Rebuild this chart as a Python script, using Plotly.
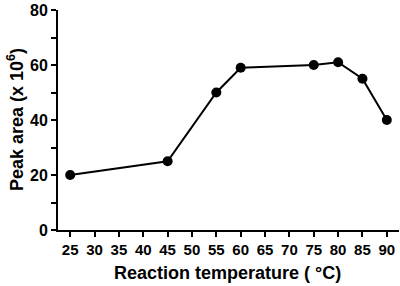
import plotly.graph_objects as go

temperature = [25, 45, 55, 60, 75, 80, 85, 90]
peak_area = [20, 25, 50, 59, 60, 61, 55, 40]
x_ticks = [25, 30, 35, 40, 45, 50, 55, 60, 65, 70, 75, 80, 85, 90]
y_ticks = [0, 20, 40, 60, 80]

font_family = "Liberation Sans, Arial, sans-serif"

fig = go.Figure()
fig.add_trace(go.Scatter(
    x=temperature, y=peak_area, mode="lines+markers",
    line=dict(color="black", width=2),
    marker=dict(color="black", size=10),
    cliponaxis=False,
))

fig.update_layout(
    width=400, height=286,
    margin=dict(l=58, r=1, t=10, b=56, autoexpand=False),
    paper_bgcolor="white", plot_bgcolor="white",
    showlegend=False,
    font=dict(family=font_family, color="black"),
)
fig.update_xaxes(
    range=[22.5, 92.5], tickvals=x_ticks, ticktext=[str(v) for v in x_ticks],
    showline=True, linecolor="black", linewidth=2,
    ticks="outside", ticklen=5, tickwidth=2, tickcolor="black",
    showgrid=False, zeroline=False, automargin=False,
    tickfont=dict(size=15, family=font_family, weight="bold"),
)
fig.update_yaxes(
    range=[0, 80], tickvals=y_ticks, ticktext=[str(v) for v in y_ticks],
    showline=True, linecolor="black", linewidth=2,
    ticks="outside", ticklen=5, tickwidth=2, tickcolor="black",
    minor=dict(dtick=10, tick0=0, ticks="outside", ticklen=5, tickwidth=2, tickcolor="black"),
    showgrid=False, zeroline=False, automargin=False,
    tickfont=dict(size=16, family=font_family, weight="bold"),
)
fig.add_annotation(
    text="<b>Reaction temperature ( °C)</b>", xref="paper", yref="paper",
    x=(227 - 58) / 341, y=-(273 - 230) / 220, xanchor="center", yanchor="middle",
    showarrow=False, font=dict(size=18, family=font_family),
)
fig.add_annotation(
    text="<b>Peak area (x 10<sup>6</sup>)</b>", xref="paper", yref="paper",
    x=-(58 - 15) / 341, y=(230 - 120) / 220, xanchor="center", yanchor="middle",
    textangle=-90, showarrow=False, font=dict(size=18, family=font_family),
)

fig.write_html("out.html", config={"displayModeBar": False},
               post_script="document.body.style.margin='0';")
